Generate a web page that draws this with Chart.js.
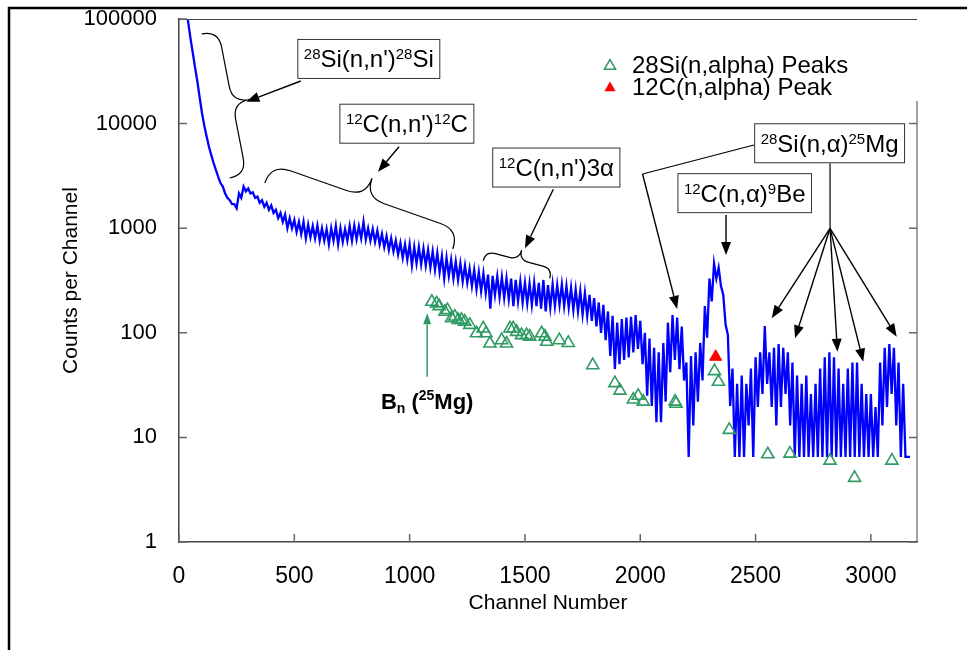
<!DOCTYPE html>
<html>
<head>
<meta charset="utf-8">
<script src="https://cdn.jsdelivr.net/npm/chart.js@4.4.1/dist/chart.umd.min.js"></script>
<style>
  html, body { margin: 0; padding: 0; background: #fff; }
</style>
</head>
<body>
<canvas id="chart" width="967" height="650"></canvas>
<script>
const FONT = '"Liberation Sans", Arial, sans-serif'
const GREEN = '#2f9a63'

const xTicks = [0, 500, 1000, 1500, 2000, 2500, 3000]
const yTicks = [1, 10, 100, 1000, 10000, 100000]

// smooth start of the spectrum
const headChannels = [25, 38, 50, 60, 70, 80, 90, 100, 110, 120, 130, 140, 150, 160, 170]
const headCounts = [200000, 100000, 65000, 47000, 34000, 25000, 17500, 12500, 9500, 7500, 6000, 5000, 4200, 3600, 3100]

// noisy part: upper and lower edge of the band, one reading every 20 channels from 180
const bodyFirst = 180
const bodyStep = 20
const bodyUpper = [
  2700, 2150, 1850, 1700, 2150, 2500, 2400, 2200, 2000, 1850,
  1750, 1650, 1500, 1400, 1350, 1250, 1200, 1150, 1150, 1080,
  1050, 1060, 1000, 980, 1000, 1050, 1000, 980, 1050, 1060,
  1040, 1150, 1000, 980, 950, 880, 840, 800, 760, 720,
  700, 700, 660, 660, 640, 620, 600, 580, 540, 520,
  500, 480, 460, 440, 410, 400, 380, 370, 360, 350,
  345, 340, 330, 330, 320, 310, 300, 295, 300, 300,
  320, 285, 290, 285, 290, 280, 270, 260, 250, 240,
  230, 215, 195, 185, 160, 145, 125, 135, 140, 142,
  148, 130, 100, 88, 72, 65, 80, 125, 148, 140,
  115, 52, 60, 65, 80, 180, 330, 460, 420, 230,
  95, 45.5, 32.5, 39, 32.5, 45.5, 58.5, 65, 116, 65,
  72, 78, 72, 65, 52, 39, 32.5, 39, 26, 32.5,
  45.5, 58.5, 65, 58.5, 45.5, 32.5, 45.5, 52, 52, 32.5,
  26, 26, 19.5, 52, 72, 78, 72, 52, 32.5, 6.5
]
const bodyLower = [
  2500, 1950, 1700, 1550, 1950, 2250, 2150, 1950, 1750, 1600,
  1500, 1400, 1250, 1150, 1000, 1000, 920, 880, 800, 820,
  800, 760, 760, 700, 760, 700, 740, 760, 760, 780,
  800, 780, 760, 740, 700, 660, 620, 600, 560, 520,
  500, 440, 460, 450, 440, 420, 400, 380, 330, 350,
  330, 320, 310, 300, 280, 260, 250, 240, 170, 230,
  220, 215, 210, 180, 200, 195, 190, 185, 180, 170,
  160, 175, 180, 185, 180, 175, 165, 160, 150, 145,
  130, 115, 100, 85, 60, 45, 50, 55, 58, 65,
  70, 50, 25, 20, 14, 14, 22, 42, 55, 45,
  35, 6.5, 13, 22, 35, 90, 200, 330, 280, 120,
  20, 6.5, 6.5, 6.5, 13, 6.5, 19.5, 26, 32.5, 19.5,
  13, 19.5, 26, 13, 6.5, 6.5, 6.5, 6.5, 6.5, 6.5,
  6.5, 6.5, 6.5, 6.5, 6.5, 6.5, 6.5, 6.5, 6.5, 6.5,
  6.5, 6.5, 6.5, 13, 19.5, 26, 13, 6.5, 6.5, 6.5
]

// 28Si(n,alpha) peaks
const siChannels = [1096, 1117, 1128, 1153, 1164, 1182, 1196, 1211, 1225, 1239, 1261, 1290, 1319, 1331, 1348,
  1399, 1420, 1435, 1449, 1464, 1485, 1507, 1521, 1572, 1587, 1594, 1649, 1688, 1794, 1890,
  1912, 1970, 1991, 2013, 2151, 2155, 2322, 2339, 2386, 2553, 2649, 2823, 2929, 3091]
const siCounts = [198, 191, 180, 159, 165, 138, 143, 133, 133, 128, 119, 99, 110, 99, 79,
  85, 79, 110, 110, 102, 95, 95, 92, 99, 92, 82, 85, 80, 49, 33,
  28, 23, 25, 22, 22, 21, 43, 34, 11.8, 6.9, 7.0, 6.0, 4.1, 6.0]

// 12C(n,alpha) peak
const cChannels = [2327]
const cCounts = [59]

const spectrum = headChannels.map((x, i) => ({x: x, y: headCounts[i]}))
bodyUpper.forEach((u, i) => {
  let ch = bodyFirst + i * bodyStep
  spectrum.push({x: ch, y: u})
  spectrum.push({x: ch + bodyStep / 2, y: bodyLower[i]})
})
const siPoints = siChannels.map((x, i) => ({x: x, y: siCounts[i]}))
const cPoints = cChannels.map((x, i) => ({x: x, y: cCounts[i]}))

// annotations, placed in [channel, log10(counts)]
const boxes = [
  {at: [823, 4.618], parts: [['28', 1], ["Si(n,n')", 0], ['28', 1], ['Si', 0]]},
  {at: [988, 3.999], parts: [['12', 1], ["C(n,n')", 0], ['12', 1], ['C', 0]]},
  {at: [1636, 3.580], parts: [['12', 1], ["C(n,n')3\u03b1", 0]]},
  {at: [2821, 3.812], parts: [['28', 1], ['Si(n,\u03b1)', 0], ['25', 1], ['Mg', 0]]},
  {at: [2453, 3.335], parts: [['12', 1], ['C(n,\u03b1)', 0], ['9', 1], ['Be', 0]]}
]
const braces = [
  {a: [98.5, 4.857], b: [220, 3.480], depth: 34},
  {a: [372, 3.432], b: [1187, 2.801], depth: 40},
  {a: [1319, 2.689], b: [1608, 2.521], depth: 20}
]
const plainLines = [
  [[2493, 3.795], [2010, 3.518]],
  [[2823, 3.620], [2823, 2.999]]
]
const arrows = [
  [[528, 4.407], [292, 4.21]],
  [[954, 3.779], [863, 3.540]],
  [[1623, 3.372], [1500, 2.808]],
  [[2010, 3.518], [2160, 2.228]],
  [[2823, 2.999], [2570, 2.139]],
  [[2823, 2.999], [2671, 1.947]],
  [[2823, 2.999], [2855, 1.819]],
  [[2823, 2.999], [2967, 1.724]],
  [[2823, 2.999], [3112, 1.963]],
  [[2372, 3.126], [2372, 2.744]]
]
const bnArrow = [[1076, 1.580], [1076, 2.186]]
const bnLabel = {at: [1076, 1.272], parts: [['B', 0], ['n', -1], [' (', 0], ['25', 1], ['Mg)', 0]]}

function richWidth(ctx, parts, big, small, weight) {
  let w = 0
  parts.forEach(p => {
    ctx.font = weight + ' ' + (p[1] ? small : big) + 'px ' + FONT
    w += ctx.measureText(p[0]).width
  })
  return w
}

function drawRich(ctx, parts, x, y, big, small, weight, up, down) {
  ctx.textAlign = 'left'
  ctx.textBaseline = 'alphabetic'
  parts.forEach(p => {
    ctx.font = weight + ' ' + (p[1] ? small : big) + 'px ' + FONT
    let dy = p[1] == 1 ? -up : (p[1] == -1 ? down : 0)
    ctx.fillText(p[0], x, y + dy)
    x += ctx.measureText(p[0]).width
  })
}

function arrow(ctx, p0, p1, head, half) {
  let ang = Math.atan2(p1.y - p0.y, p1.x - p0.x)
  let bx = p1.x - Math.cos(ang) * head
  let by = p1.y - Math.sin(ang) * head
  ctx.beginPath()
  ctx.moveTo(p0.x, p0.y)
  ctx.lineTo(bx, by)
  ctx.stroke()
  ctx.beginPath()
  ctx.moveTo(p1.x, p1.y)
  ctx.lineTo(bx + Math.sin(ang) * half, by - Math.cos(ang) * half)
  ctx.lineTo(bx - Math.sin(ang) * half, by + Math.cos(ang) * half)
  ctx.closePath()
  ctx.fill()
}

function brace(ctx, a, b, depth) {
  let dx = b.x - a.x, dy = b.y - a.y
  let L = Math.hypot(dx, dy)
  let ux = dx / L, uy = dy / L, nx = uy, ny = -ux
  let h = depth / 2, r = Math.min(h, L / 6)
  let P = (s, t) => [a.x + ux * s + nx * t, a.y + uy * s + ny * t]
  ctx.beginPath()
  ctx.moveTo(...P(0, 0))
  ctx.quadraticCurveTo(...P(0, h), ...P(r, h))
  ctx.lineTo(...P(L / 2 - r, h))
  ctx.quadraticCurveTo(...P(L / 2, h), ...P(L / 2, depth))
  ctx.quadraticCurveTo(...P(L / 2, h), ...P(L / 2 + r, h))
  ctx.lineTo(...P(L - r, h))
  ctx.quadraticCurveTo(...P(L, h), ...P(L, 0))
  ctx.stroke()
}

function triangle(ctx, x, y, r) {
  ctx.beginPath()
  ctx.moveTo(x, y - r)
  ctx.lineTo(x + r * Math.sin(Math.PI / 3), y + r / 2)
  ctx.lineTo(x - r * Math.sin(Math.PI / 3), y + r / 2)
  ctx.closePath()
}

const background = {
  id: 'background',
  beforeDraw(chart) {
    let ctx = chart.ctx
    ctx.save()
    ctx.fillStyle = '#fff'
    ctx.fillRect(0, 0, chart.width, chart.height)
    ctx.strokeStyle = '#000'
    ctx.lineWidth = 2.5
    ctx.beginPath()
    ctx.moveTo(chart.width, 8)
    ctx.lineTo(9, 8)
    ctx.lineTo(9, chart.height)
    ctx.stroke()
    ctx.restore()
  }
}

const decorations = {
  id: 'decorations',
  afterDraw(chart) {
    let ctx = chart.ctx
    let area = chart.chartArea
    let xs = chart.scales.x, ys = chart.scales.y
    let pt = q => ({x: xs.getPixelForValue(q[0]), y: ys.getPixelForValue(Math.pow(10, q[1]))})
    let rightTop = area.top + 82
    ctx.save()

    // frame pieces and inward ticks
    ctx.strokeStyle = '#444'
    ctx.lineWidth = 1
    ctx.beginPath()
    ctx.moveTo(area.left, area.top + 0.5)
    ctx.lineTo(area.right, area.top + 0.5)
    ctx.moveTo(area.right, rightTop)
    ctx.lineTo(area.right, area.bottom)
    ctx.stroke()
    ctx.strokeStyle = '#666'
    ctx.lineWidth = 1.5
    ctx.beginPath()
    yTicks.forEach(v => {
      let py = ys.getPixelForValue(v)
      ctx.moveTo(area.left, py)
      ctx.lineTo(area.left + 8, py)
      if (py > rightTop) {
        ctx.moveTo(area.right, py)
        ctx.lineTo(area.right - 8, py)
      }
    })
    xTicks.forEach(v => {
      let px = xs.getPixelForValue(v)
      ctx.moveTo(px, area.bottom)
      ctx.lineTo(px, area.bottom - 8)
    })
    ctx.stroke()

    // braces and arrows
    ctx.strokeStyle = '#000'
    ctx.fillStyle = '#000'
    ctx.lineWidth = 1.2
    braces.forEach(b => brace(ctx, pt(b.a), pt(b.b), b.depth))
    plainLines.forEach(l => {
      let p0 = pt(l[0]), p1 = pt(l[1])
      ctx.beginPath()
      ctx.moveTo(p0.x, p0.y)
      ctx.lineTo(p1.x, p1.y)
      ctx.stroke()
    })
    ctx.lineWidth = 1.4
    arrows.forEach(a => arrow(ctx, pt(a[0]), pt(a[1]), 13, 5))

    // label boxes
    boxes.forEach(b => {
      let c = pt(b.at)
      let w = richWidth(ctx, b.parts, 24, 15, 'normal') + 12
      let h = 39
      ctx.fillStyle = '#fff'
      ctx.fillRect(c.x - w / 2, c.y - h / 2, w, h)
      ctx.strokeStyle = '#333'
      ctx.lineWidth = 1
      ctx.strokeRect(c.x - w / 2, c.y - h / 2, w, h)
      ctx.fillStyle = '#000'
      drawRich(ctx, b.parts, c.x - w / 2 + 6, c.y + 8.5, 24, 15, 'normal', 8, 0)
    })

    // binding energy marker
    ctx.strokeStyle = GREEN
    ctx.fillStyle = GREEN
    ctx.lineWidth = 1.5
    arrow(ctx, pt(bnArrow[0]), pt(bnArrow[1]), 11, 4)
    let bc = pt(bnLabel.at)
    let bw = richWidth(ctx, bnLabel.parts, 22, 14, 'bold')
    ctx.fillStyle = '#000'
    drawRich(ctx, bnLabel.parts, bc.x - bw / 2, bc.y, 22, 14, 'bold', 9, 4)

    // legend
    let lx = area.right - 307
    let sets = chart.data.datasets
    ;[1, 2].forEach((k, i) => {
      let ds = sets[k]
      let ly = area.top + 47 + i * 22
      triangle(ctx, lx, ly, 6.5)
      if (k == 1) {
        ctx.strokeStyle = ds.borderColor
        ctx.lineWidth = 1.5
        ctx.stroke()
      } else {
        ctx.fillStyle = ds.backgroundColor
        ctx.fill()
      }
      ctx.fillStyle = '#000'
      ctx.font = '24px ' + FONT
      ctx.textAlign = 'left'
      ctx.textBaseline = 'middle'
      ctx.fillText(ds.label, lx + 22, ly)
    })
    ctx.restore()
  }
}

const ctx = document.getElementById('chart')
const myChart = new Chart(ctx, {
  type: 'scatter',
  data: {
    datasets: [
      {
        type: 'line',
        label: 'Spectrum',
        data: spectrum,
        borderColor: '#0000ff',
        borderWidth: 2.3,
        pointRadius: 0,
        tension: 0,
        clip: 0,
        order: 3
      },
      {
        label: '28Si(n,alpha) Peaks',
        data: siPoints,
        pointStyle: 'triangle',
        pointRadius: 7,
        borderWidth: 1.6,
        borderColor: GREEN,
        backgroundColor: 'rgba(0,0,0,0)',
        order: 2
      },
      {
        label: '12C(n,alpha) Peak',
        data: cPoints,
        pointStyle: 'triangle',
        pointRadius: 7,
        borderWidth: 1,
        borderColor: '#ff0000',
        backgroundColor: '#ff0000',
        order: 1
      }
    ]
  },
  options: {
    responsive: false,
    animation: false,
    events: [],
    layout: {padding: {left: 0, right: 50, top: 19, bottom: 0}},
    plugins: {
      legend: {display: false},
      tooltip: {enabled: false}
    },
    scales: {
      x: {
        type: 'linear',
        min: 0,
        max: 3200,
        afterBuildTicks: s => { s.ticks = xTicks.map(v => ({value: v})) },
        afterFit: s => { s.height = 108 },
        grid: {drawOnChartArea: false, drawTicks: false},
        border: {color: '#444', width: 1.5},
        ticks: {font: {family: FONT, size: 23}, color: '#000', padding: 21, maxRotation: 0, autoSkip: false, callback: v => String(v)},
        title: {display: true, text: 'Channel Number', color: '#000', font: {family: FONT, size: 21}, padding: {top: 0, bottom: 34}}
      },
      y: {
        type: 'logarithmic',
        min: 1,
        max: 100000,
        afterBuildTicks: s => { s.ticks = yTicks.map(v => ({value: v})) },
        afterFit: s => { s.width = 179; s.paddingTop = 0; s.paddingBottom = 0 },
        grid: {drawOnChartArea: false, drawTicks: false},
        border: {color: '#444', width: 1.5},
        ticks: {font: {family: FONT, size: 22}, color: '#000', padding: 22, autoSkip: false, callback: v => String(v)},
        title: {display: true, text: 'Counts per Channel', color: '#000', font: {family: FONT, size: 21}, padding: {top: 59, bottom: 0}}
      }
    }
  },
  plugins: [background, decorations]
})
</script>
</body>
</html>
